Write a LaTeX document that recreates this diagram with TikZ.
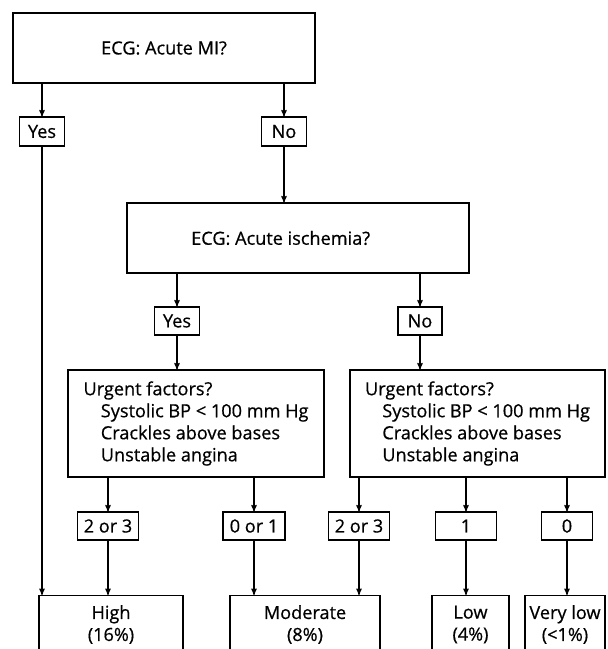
\documentclass[tikz,border=0pt]{standalone}
\usepackage{fontspec}
\setmainfont{Open Sans}[FakeBold=0.6]
\usetikzlibrary{arrows}

\tikzset{
  box/.style={draw, line width=0.8pt, inner sep=0pt, align=center, font=\fontsize{13.6}{16.5}\selectfont},
  sz/.style 2 args={minimum width=#1*0.75pt, minimum height=#2*0.75pt},
  arr/.style={line width=0.8pt, -stealth'},
}

\begin{document}
\begin{tikzpicture}[x=0.75pt,y=0.75pt,yscale=-1,xscale=1]
\useasboundingbox (0,0) rectangle (607,649);
\clip (0,0) rectangle (607,649);

%Shape: Rectangle (first question)
\node[box, sz={302}{70}] (mi) at (164,48) {\raisebox{-3pt}{ECG: Acute MI?}};
%Shape: Rectangle (answers)
\node[box, sz={45}{29}] (yesA) at (42,131.5) {Yes};
\node[box, sz={45}{29}] (noA) at (284,131.5) {No};
%Shape: Rectangle (second question)
\node[box, sz={342}{70}] (isch) at (298,238) {\raisebox{-2pt}{ECG: Acute ischemia?}\hspace*{26pt}};
\node[box, sz={45}{28}] (yesB) at (177,321) {Yes};
\node[box, sz={44}{28}] (noB) at (420,321) {No};
%Shape: Rectangle (urgent factors)
\node[box, sz={256}{107}, align=left] (urgL) at (196,423.5) {Urgent factors?\\
  \hspace*{13pt}Systolic BP < 100 mm Hg\\
  \hspace*{13pt}Crackles above bases\\
  \hspace*{13pt}Unstable angina};
\node[box, sz={255}{107}, align=left] (urgR) at (477.5,423.5) {Urgent factors?\\
  \hspace*{13pt}Systolic BP < 100 mm Hg\\
  \hspace*{13pt}Crackles above bases\\
  \hspace*{13pt}Unstable angina\hspace*{8pt}};
%Shape: Rectangle (counts)
\node[box, sz={61}{28}] (cntA) at (108,526) {2 or 3};
\node[box, sz={62}{28}] (cntB) at (254,526) {0 or 1};
\node[box, sz={61}{28}] (cntC) at (359,526) {2 or 3};
\node[box, sz={61}{28}] (cntD) at (466,526) {1};
\node[box, sz={51}{28}] (cntE) at (567,526) {0};
%Shape: Rectangle (risk, cut at the bottom)
\node[box, anchor=north, sz={144}{58}] (high) at (111,595) {High\\(16\%)};
\node[box, anchor=north, sz={150}{58}] (mod) at (305,595) {Moderate\\(8\%)};
\node[box, anchor=north, sz={77}{58}] (low) at (470.5,595) {Low\\(4\%)};
\node[box, anchor=north, sz={80}{58}] (vlow) at (565,595) {Very low\\(<1\%)};

%Straight Lines
\draw[arr] (mi.south -| yesA) -- (yesA);
\draw[arr] (mi.south -| noA) -- (noA);
\draw[arr] (noA) -- (noA |- isch.north);
\draw[arr] (isch.south -| yesB) -- (yesB);
\draw[arr] (isch.south -| noB) -- (noB);
\draw[arr] (yesB) -- (yesB |- urgL.north);
\draw[arr] (noB) -- (noB |- urgR.north);
\draw[arr] (urgL.south -| cntA) -- (cntA);
\draw[arr] (urgL.south -| cntB) -- (cntB);
\draw[arr] (urgR.south -| cntC) -- (cntC);
\draw[arr] (urgR.south -| cntD) -- (cntD);
\draw[arr] (urgR.south -| cntE) -- (cntE);
\draw[arr] (yesA) -- (yesA |- high.north);
\draw[arr] (cntA) -- (cntA |- high.north);
\draw[arr] (cntB) -- (cntB |- mod.north);
\draw[arr] (cntC) -- (cntC |- mod.north);
\draw[arr] (cntD) -- (cntD |- low.north);
\draw[arr] (cntE) -- (cntE |- vlow.north);

\end{tikzpicture}
\end{document}
